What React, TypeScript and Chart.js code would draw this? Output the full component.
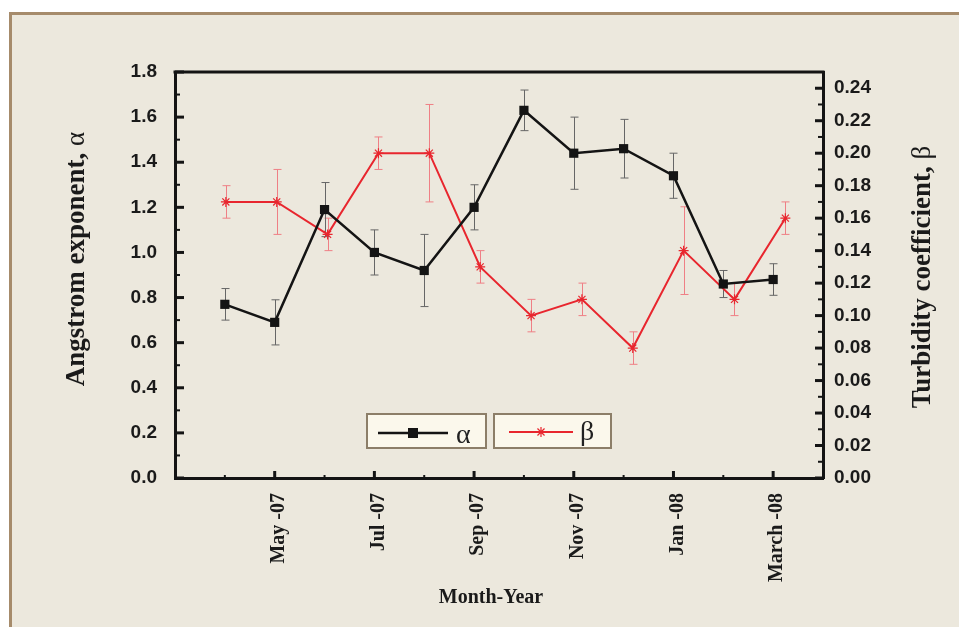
import React, { useEffect, useRef } from 'react';
import { Chart, registerables } from 'chart.js';

Chart.register(...registerables);

// ---- data ----
const months = ['Apr -07', 'May -07', 'Jun -07', 'Jul -07', 'Aug -07', 'Sep -07', 'Oct -07', 'Nov -07', 'Dec -07', 'Jan -08', 'Feb -08', 'March -08'];
const labeledMonths = ['May -07', 'Jul -07', 'Sep -07', 'Nov -07', 'Jan -08', 'March -08'];
const alphaValues = [0.77, 0.69, 1.19, 1.0, 0.92, 1.2, 1.63, 1.44, 1.46, 1.34, 0.86, 0.88];
const alphaErrors = [0.07, 0.1, 0.12, 0.1, 0.16, 0.1, 0.09, 0.16, 0.13, 0.1, 0.06, 0.07];
const betaValues = [0.17, 0.17, 0.15, 0.2, 0.2, 0.13, 0.1, 0.11, 0.08, 0.14, 0.11, 0.16];
const betaErrors = [0.01, 0.02, 0.01, 0.01, 0.03, 0.01, 0.01, 0.01, 0.01, 0.027, 0.01, 0.01];
const alphaAxisMax = 1.8;
const betaAxisMax = 0.25;
const monthAxisMax = 13;
const betaMonthAxisMax = 12.74;

const BLACK = '#141414';
const RED = '#e8262e';
const SERIF = '"Liberation Serif", "Times New Roman", serif';
const SANS = '"Liberation Sans", Arial, sans-serif';

function drawRotatedParts(ctx: CanvasRenderingContext2D, parts: { text: string; font: string }[], cx: number, cy: number) {
  ctx.save();
  let total = 0;
  const widths = parts.map((p) => {
    ctx.font = p.font;
    const w = ctx.measureText(p.text).width;
    total += w;
    return w;
  });
  ctx.translate(cx, cy);
  ctx.rotate(-Math.PI / 2);
  ctx.textBaseline = 'alphabetic';
  ctx.textAlign = 'left';
  let x = -total / 2;
  parts.forEach((p, i) => {
    ctx.font = p.font;
    ctx.fillText(p.text, x, 0);
    x += widths[i];
  });
  ctx.restore();
}

function drawStar(ctx: CanvasRenderingContext2D, x: number, y: number, r: number) {
  ctx.beginPath();
  ctx.moveTo(x - r, y);
  ctx.lineTo(x + r, y);
  ctx.moveTo(x, y - r);
  ctx.lineTo(x, y + r);
  const d = r * Math.SQRT1_2;
  ctx.moveTo(x - d, y - d);
  ctx.lineTo(x + d, y + d);
  ctx.moveTo(x - d, y + d);
  ctx.lineTo(x + d, y - d);
  ctx.stroke();
}

const decorPlugin = {
  id: 'decor',
  beforeDatasetsDraw(chart: any) {
    const ctx: CanvasRenderingContext2D = chart.ctx;
    const { x, x2, y, y1 } = chart.scales;
    const cap = 4;
    ctx.save();
    ctx.lineWidth = 1;
    // red error bars
    ctx.strokeStyle = '#ef7f85';
    betaValues.forEach((v, i) => {
      const px = Math.round(x2.getPixelForValue(i + 1)) + 0.5;
      const t = y1.getPixelForValue(v + betaErrors[i]);
      const b = y1.getPixelForValue(v - betaErrors[i]);
      ctx.beginPath();
      ctx.moveTo(px, t);
      ctx.lineTo(px, b);
      ctx.moveTo(px - cap, t);
      ctx.lineTo(px + cap, t);
      ctx.moveTo(px - cap, b);
      ctx.lineTo(px + cap, b);
      ctx.stroke();
    });
    // black error bars
    ctx.strokeStyle = '#666';
    alphaValues.forEach((v, i) => {
      const px = Math.round(x.getPixelForValue(i + 1)) + 0.5;
      const t = y.getPixelForValue(v + alphaErrors[i]);
      const b = y.getPixelForValue(v - alphaErrors[i]);
      ctx.beginPath();
      ctx.moveTo(px, t);
      ctx.lineTo(px, b);
      ctx.moveTo(px - cap, t);
      ctx.lineTo(px + cap, t);
      ctx.moveTo(px - cap, b);
      ctx.lineTo(px + cap, b);
      ctx.stroke();
    });
    ctx.restore();
  },
  afterDraw(chart: any) {
    const ctx: CanvasRenderingContext2D = chart.ctx;
    const { x, y, y1 } = chart.scales;
    const ca = chart.chartArea;
    ctx.save();
    ctx.strokeStyle = BLACK;
    // top frame line
    ctx.lineWidth = 3;
    ctx.beginPath();
    ctx.moveTo(ca.left - 1.5, ca.top);
    ctx.lineTo(ca.right + 1.5, ca.top);
    ctx.stroke();
    // left axis ticks (inward)
    y.ticks.forEach((t: any) => {
      const major = Math.round(t.value * 10) % 2 === 0;
      const py = y.getPixelForValue(t.value);
      ctx.lineWidth = major ? 3 : 2;
      ctx.beginPath();
      ctx.moveTo(ca.left, py);
      ctx.lineTo(ca.left + (major ? 9 : 5), py);
      ctx.stroke();
    });
    // right axis ticks (inward)
    y1.ticks.forEach((t: any) => {
      const major = Math.round(t.value * 100) % 2 === 0;
      const py = y1.getPixelForValue(t.value);
      ctx.lineWidth = major ? 3 : 2;
      ctx.beginPath();
      ctx.moveTo(ca.right, py);
      ctx.lineTo(ca.right - (major ? 8 : 5), py);
      ctx.stroke();
    });
    // bottom axis ticks (inward)
    x.ticks.forEach((t: any) => {
      if (t.value <= 0 || t.value >= monthAxisMax) return;
      const major = t.value % 2 === 0;
      const px = x.getPixelForValue(t.value);
      ctx.lineWidth = major ? 3 : 2;
      ctx.beginPath();
      ctx.moveTo(px, ca.bottom);
      ctx.lineTo(px, ca.bottom - (major ? 7 : 3));
      ctx.stroke();
    });

    // legend
    const lx = ca.left + 192;
    const ly = ca.top + 342;
    ctx.lineWidth = 2;
    ctx.strokeStyle = '#8c7e68';
    ctx.fillStyle = '#fbf8ec';
    ctx.fillRect(lx, ly, 119, 34);
    ctx.strokeRect(lx, ly, 119, 34);
    ctx.fillRect(lx + 127, ly, 117, 34);
    ctx.strokeRect(lx + 127, ly, 117, 34);
    // alpha entry
    ctx.strokeStyle = BLACK;
    ctx.lineWidth = 2.5;
    ctx.beginPath();
    ctx.moveTo(lx + 11, ly + 19);
    ctx.lineTo(lx + 81, ly + 19);
    ctx.stroke();
    ctx.fillStyle = BLACK;
    ctx.fillRect(lx + 41, ly + 14, 10, 10);
    ctx.font = `28px ${SERIF}`;
    ctx.textBaseline = 'alphabetic';
    ctx.textAlign = 'left';
    ctx.fillStyle = '#222';
    ctx.fillText('α', lx + 89, ly + 29);
    // beta entry
    ctx.strokeStyle = RED;
    ctx.lineWidth = 2;
    ctx.beginPath();
    ctx.moveTo(lx + 142, ly + 18);
    ctx.lineTo(lx + 206, ly + 18);
    ctx.stroke();
    ctx.lineWidth = 1.2;
    drawStar(ctx, lx + 174, ly + 18, 5);
    ctx.fillStyle = '#222';
    ctx.fillText('β', lx + 213, ly + 26);

    // axis titles
    ctx.fillStyle = '#1a1a1a';
    drawRotatedParts(ctx, [
      { text: 'Angstrom exponent, ', font: `bold 27px ${SERIF}` },
      { text: 'α', font: `27px ${SERIF}` },
    ], 84, 259);
    drawRotatedParts(ctx, [
      { text: 'Turbidity coefficient, ', font: `bold 27px ${SERIF}` },
      { text: 'β', font: `27px ${SERIF}` },
    ], 930, 277);
    ctx.font = `bold 20px ${SERIF}`;
    ctx.textAlign = 'center';
    ctx.fillText('Month-Year', 491, 603);
    ctx.restore();
  },
};

export default function App() {
  const ref = useRef<HTMLCanvasElement | null>(null);
  useEffect(() => {
    if (!ref.current) return;
    const chart = new Chart(ref.current, {
      type: 'line',
      data: {
        datasets: [
          {
            label: 'α',
            data: alphaValues.map((v, i) => ({ x: i + 1, y: v })),
            borderColor: BLACK,
            backgroundColor: BLACK,
            borderWidth: 2.5,
            pointStyle: 'rect',
            pointRadius: 6.5,
            pointBorderWidth: 0,
            pointBackgroundColor: BLACK,
            tension: 0,
            xAxisID: 'x',
            yAxisID: 'y',
          },
          {
            label: 'β',
            data: betaValues.map((v, i) => ({ x: i + 1, y: v })),
            borderColor: RED,
            backgroundColor: RED,
            borderWidth: 2,
            pointStyle: 'star',
            pointRadius: 5,
            pointBorderWidth: 1.2,
            pointBorderColor: RED,
            tension: 0,
            xAxisID: 'x2',
            yAxisID: 'y1',
          },
        ],
      },
      options: {
        animation: false,
        responsive: false,
        events: [],
        layout: { padding: { top: 72, left: 0, right: 0, bottom: 0 } },
        plugins: { legend: { display: false }, tooltip: { enabled: false } },
        scales: {
          x: {
            type: 'linear',
            position: 'bottom',
            min: 0,
            max: monthAxisMax,
            afterFit: (s: any) => { s.height = 149; },
            grid: { display: false },
            border: { display: true, color: BLACK, width: 3 },
            ticks: {
              stepSize: 1,
              autoSkip: false,
              minRotation: 90,
              maxRotation: 90,
              padding: 7,
              labelOffset: 4,
              color: '#1a1a1a',
              font: { family: SERIF, size: 20, weight: 'bold' },
              callback: (v: any) => {
                const m = months[Number(v) - 1];
                return m && labeledMonths.includes(m) ? m : '';
              },
            },
          },
          x2: {
            type: 'linear',
            display: false,
            min: 0,
            max: betaMonthAxisMax,
          },
          y: {
            type: 'linear',
            position: 'left',
            min: 0,
            max: alphaAxisMax,
            afterFit: (s: any) => { s.width = 175; },
            grid: { display: false },
            border: { display: true, color: BLACK, width: 3 },
            ticks: {
              stepSize: 0.1,
              autoSkip: false,
              padding: 10,
              color: '#1a1a1a',
              font: { family: SANS, size: 19, weight: 'bold' },
              callback: (v: any) => (Math.round(Number(v) * 10) % 2 === 0 ? Number(v).toFixed(1) : ''),
            },
          },
          y1: {
            type: 'linear',
            position: 'right',
            min: 0,
            max: betaAxisMax,
            afterFit: (s: any) => { s.width = 136; },
            grid: { display: false },
            border: { display: true, color: BLACK, width: 3 },
            ticks: {
              stepSize: 0.01,
              autoSkip: false,
              padding: 3,
              color: '#1a1a1a',
              font: { family: SANS, size: 19, weight: 'bold' },
              callback: (v: any) => (Math.round(Number(v) * 100) % 2 === 0 ? Number(v).toFixed(2) : ''),
            },
          },
        },
      },
      plugins: [decorPlugin],
    } as any);
    return () => chart.destroy();
  }, []);

  return (
    <div style={{ position: 'fixed', left: 0, top: 0, width: 959, height: 627, background: '#ffffff', overflow: 'hidden' }}>
      <div
        style={{
          position: 'absolute',
          left: 9,
          top: 12,
          right: 0,
          bottom: 0,
          background: '#ece8dd',
          borderLeft: '3px solid #a68b6b',
          borderTop: '3px solid #a68b6b',
        }}
      />
      <canvas ref={ref} width={959} height={627} style={{ position: 'absolute', left: 0, top: 0, display: 'block' }} />
    </div>
  );
}
